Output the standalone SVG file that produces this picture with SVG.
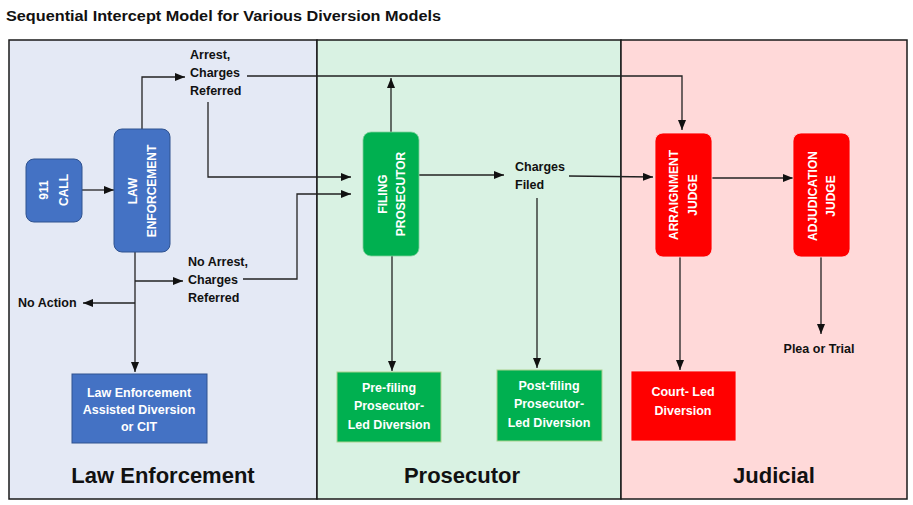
<svg xmlns="http://www.w3.org/2000/svg" width="913" height="505" viewBox="0 0 913 505">
<defs>
<marker id="ah" markerWidth="10" markerHeight="8" refX="10" refY="4" orient="auto" markerUnits="userSpaceOnUse"><path d="M0,0 L10,4 L0,8 z" fill="#111"/></marker>
<style>
text{font-family:"Liberation Sans",Arial,sans-serif;font-weight:bold}
.lbl{font-size:12.5px;fill:#111}
.wt{font-size:12px;fill:#fff}
.wt2{font-size:12.5px;fill:#fff}
.pan{font-size:22px;fill:#111;text-anchor:middle}
.c{text-anchor:middle}
.con{fill:none;stroke:#222;stroke-width:1.3}
.arr{marker-end:url(#ah)}
.panel{stroke:#1a1a1a;stroke-width:1.5}
</style>
</defs>
<rect width="913" height="505" fill="#fff"/>
<text x="6" y="21" style="font-size:14.5px;fill:#111" textLength="435" lengthAdjust="spacingAndGlyphs">Sequential Intercept Model for Various Diversion Models</text>

<g id="panels">
<rect class="panel" x="9" y="40" width="308" height="459" fill="#E4E9F5"/>
<rect class="panel" x="317" y="40" width="304" height="459" fill="#D9F2E3"/>
<rect class="panel" x="621" y="40" width="286" height="459" fill="#FFD9D9"/>
<text class="pan" x="163" y="483">Law Enforcement</text>
<text class="pan" x="462" y="483">Prosecutor</text>
<text class="pan" x="774" y="483">Judicial</text>
</g>

<g id="connectors">
<path class="con arr" d="M82,190 H114"/>
<path class="con arr" d="M142,129 V77 H185"/>
<path class="con arr" d="M247,76 H682 V130"/>
<path class="con arr" d="M208,102 V177 H351"/>
<path class="con arr" d="M135,252 V372"/>
<path class="con arr" d="M135,281 H183"/>
<path class="con arr" d="M135,303 H83"/>
<path class="con arr" d="M243,279 H297 V194 H351"/>
<path class="con arr" d="M391,132 V78"/>
<path class="con arr" d="M419,175 H504"/>
<path class="con arr" d="M569,176 L653,177"/>
<path class="con arr" d="M392,256 V371"/>
<path class="con arr" d="M537,198 V368"/>
<path class="con arr" d="M712,178 H793"/>
<path class="con arr" d="M680,257 V370"/>
<path class="con arr" d="M821,257 V334"/>
</g>

<g id="labels">
<text class="lbl" x="190" y="59">Arrest,</text>
<text class="lbl" x="190" y="77">Charges</text>
<text class="lbl" x="190" y="95">Referred</text>
<text class="lbl" x="188" y="266">No Arrest,</text>
<text class="lbl" x="188" y="284">Charges</text>
<text class="lbl" x="188" y="302">Referred</text>
<text class="lbl" x="18" y="307">No Action</text>
<text class="lbl" x="515" y="171">Charges</text>
<text class="lbl" x="515" y="189">Filed</text>
<text class="lbl c" x="819" y="353">Plea or Trial</text>
</g>

<g id="call911">
<rect x="26" y="159" width="56" height="63" rx="8" fill="#4472C4" stroke="#2F528F" stroke-width="1"/>
<g transform="translate(54,190) rotate(-90)">
<text class="wt c" x="0" y="-6.5">911</text>
<text class="wt c" x="0" y="13.5">CALL</text>
</g>
</g>

<g id="lawEnforcement">
<rect x="114" y="129" width="56" height="123" rx="8" fill="#4472C4" stroke="#2F528F" stroke-width="1"/>
<g transform="translate(142,191) rotate(-90)">
<text class="wt c" x="0" y="-5.5">LAW</text>
<text class="wt c" x="0" y="13.5">ENFORCEMENT</text>
</g>
</g>

<g id="leDiversion">
<rect x="72" y="374" width="135" height="69" fill="#4472C4" stroke="#2F528F" stroke-width="1"/>
<text class="wt2 c" x="139" y="397">Law Enforcement</text>
<text class="wt2 c" x="139" y="414">Assisted Diversion</text>
<text class="wt2 c" x="139" y="431">or CIT</text>
</g>

<g id="filingProsecutor">
<rect x="363" y="132" width="56" height="124" rx="8" fill="#00B050" stroke="#7FD19B" stroke-width="0.8"/>
<g transform="translate(391,194) rotate(-90)">
<text class="wt c" x="0" y="-4.5">FILING</text>
<text class="wt c" x="0" y="13.5">PROSECUTOR</text>
</g>
</g>

<g id="preFiling">
<rect x="337" y="372" width="104" height="70" fill="#00B050" stroke="#A9D18E" stroke-width="1"/>
<text class="wt2 c" x="389" y="392">Pre-filing</text>
<text class="wt2 c" x="389" y="410">Prosecutor-</text>
<text class="wt2 c" x="389" y="429">Led Diversion</text>
</g>

<g id="postFiling">
<rect x="497" y="370" width="105" height="71" fill="#00B050" stroke="#A9D18E" stroke-width="1"/>
<text class="wt2 c" x="549" y="390">Post-filing</text>
<text class="wt2 c" x="549" y="408">Prosecutor-</text>
<text class="wt2 c" x="549" y="427">Led Diversion</text>
</g>

<g id="arraignmentJudge">
<rect x="655" y="133" width="57" height="124" rx="8" fill="#FF0000" stroke="#FFE0E0" stroke-width="0.8"/>
<g transform="translate(683,195) rotate(-90)">
<text class="wt c" x="0" y="-5.5">ARRAIGNMENT</text>
<text class="wt c" x="0" y="13.5">JUDGE</text>
</g>
</g>

<g id="adjudicationJudge">
<rect x="793" y="133" width="57" height="124" rx="8" fill="#FF0000" stroke="#FFE0E0" stroke-width="0.8"/>
<g transform="translate(821,196) rotate(-90)">
<text class="wt c" x="0" y="-4.5">ADJUDICATION</text>
<text class="wt c" x="0" y="13.5">JUDGE</text>
</g>
</g>

<g id="courtLed">
<rect x="631" y="371" width="105" height="70" fill="#FF0000" stroke="#FFE0E0" stroke-width="0.8"/>
<text class="wt2 c" x="683" y="396">Court- Led</text>
<text class="wt2 c" x="683" y="415">Diversion</text>
</g>
</svg>
